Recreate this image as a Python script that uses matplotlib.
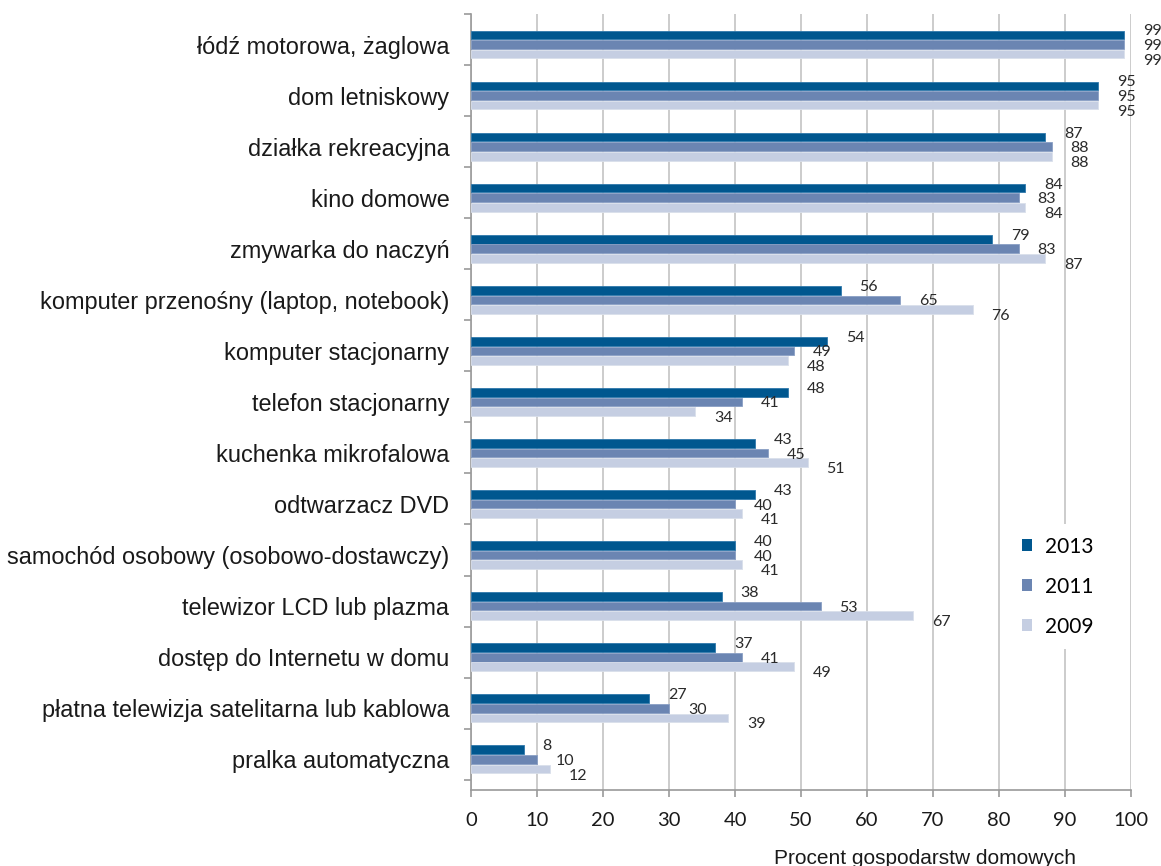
import matplotlib.pyplot as plt
import numpy as np
from matplotlib.ticker import FixedLocator, MultipleLocator

categories = [
    "łódź motorowa, żaglowa",
    "dom letniskowy",
    "działka rekreacyjna",
    "kino domowe",
    "zmywarka do naczyń",
    "komputer przenośny (laptop, notebook)",
    "komputer stacjonarny",
    "telefon stacjonarny",
    "kuchenka mikrofalowa",
    "odtwarzacz DVD",
    "samochód osobowy (osobowo-dostawczy)",
    "telewizor LCD lub plazma",
    "dostęp do Internetu w domu",
    "płatna telewizja satelitarna lub kablowa",
    "pralka automatyczna",
]
years = ["2013", "2011", "2009"]
v2013 = [99, 95, 87, 84, 79, 56, 54, 48, 43, 43, 40, 38, 37, 27, 8]
v2011 = [99, 95, 88, 83, 83, 65, 49, 41, 45, 40, 40, 53, 41, 30, 10]
v2009 = [99, 95, 88, 84, 87, 76, 48, 34, 51, 41, 41, 67, 49, 39, 12]

colors = ["#00578f", "#6b85b2", "#c5cee2"]
edges = ["#2f78ab", "#8a9fc4", "#d9dfeb"]

NUM_FONT = ["Lato", "DejaVu Sans"]
CAT_FONT = ["Liberation Sans", "DejaVu Sans"]

fig = plt.figure(figsize=(11.61, 8.66), dpi=100)
ax = fig.add_axes([0.4057, 0.0878, 0.5685, 0.8961])

n = len(categories)
y = np.arange(n)
step = 0.187
series = [v2013, v2011, v2009]
# value labels fan out a little so the three numbers of a group don't collide
label_dy = [2.6, -1.1, -4.8]

for i, (vals, yr) in enumerate(zip(series, years)):
    pos = y + (i - 1) * step
    ax.barh(pos, vals, height=step * 0.9, color=colors[i], edgecolor=edges[i],
            linewidth=0.6, label=yr, zorder=3)
    for p, v in zip(pos, vals):
        ax.annotate(str(v), (v, p), xytext=(13.5, label_dy[i]), textcoords="offset points",
                    ha="left", va="center", fontsize=11.5, color="#2a2a2a",
                    family=NUM_FONT, zorder=4)

# category slots are bounded by the minor ticks, bars sit a bit below slot centre
ax.set_xlim(0, 100)
ax.set_ylim(n - 0.4, -0.6)

ax.xaxis.set_major_locator(MultipleLocator(10))
ax.grid(axis="x", color="#c8c8c8", linewidth=1.3, zorder=0)
ax.set_axisbelow(True)

ax.set_yticks(y)
ax.set_yticklabels(categories, fontsize=16.9, family=CAT_FONT, color="#1a1a1a")
ax.yaxis.set_minor_locator(FixedLocator(np.arange(-0.6, n, 1.0)))
ax.tick_params(axis="y", which="major", length=0, pad=15.5)
ax.tick_params(axis="y", which="minor", length=5, color="#9a9a9a", width=1.2)
ax.tick_params(axis="x", length=5, color="#9a9a9a", width=1.2, pad=11,
               labelsize=14.5, labelcolor="#1a1a1a")
for lab in ax.get_xticklabels():
    lab.set_family(NUM_FONT)

for side in ["top", "right"]:
    ax.spines[side].set_visible(False)
for side in ["left", "bottom"]:
    ax.spines[side].set_color("#9a9a9a")
    ax.spines[side].set_linewidth(1.2)

ax.set_xlabel("Procent gospodarstw domowych", fontsize=15, family=CAT_FONT,
              color="#1a1a1a")
ax.xaxis.set_label_coords(0.688, -0.076)

leg = ax.legend(loc="upper left", bbox_to_anchor=(0.80, 0.356), frameon=True,
                fancybox=False, edgecolor="none", facecolor="white", framealpha=1,
                handlelength=0.5, handleheight=0.5, handletextpad=0.62,
                labelspacing=0.96, borderpad=0.6,
                prop={"family": NUM_FONT, "size": 15})
for h in leg.legend_handles:
    h.set_edgecolor("none")
leg.set_zorder(5)

fig.savefig("out.png", dpi=100)
